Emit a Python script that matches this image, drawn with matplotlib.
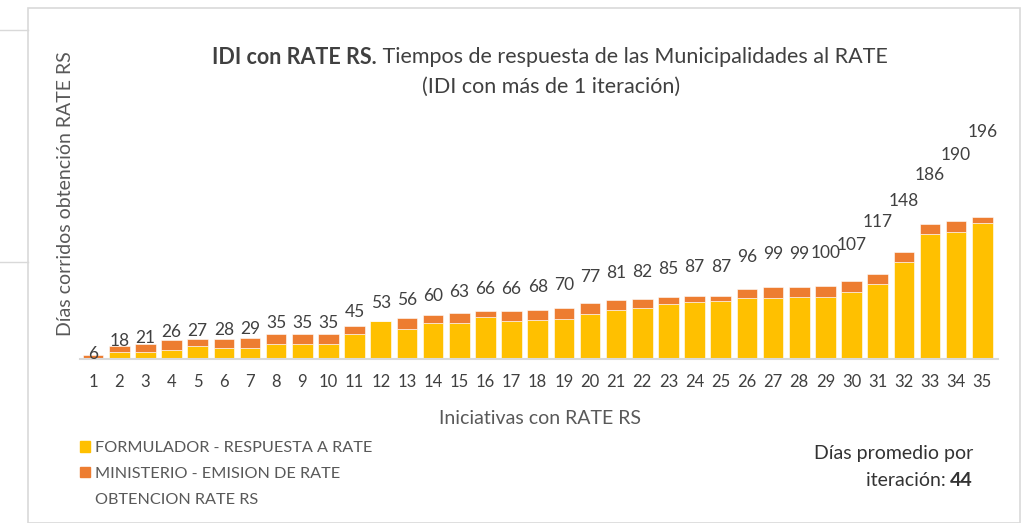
import matplotlib
matplotlib.use("Agg")
import matplotlib.pyplot as plt
from matplotlib.patches import Patch, Rectangle
from matplotlib.lines import Line2D
import numpy as np

plt.rcParams['font.family'] = ['Lato', 'DejaVu Sans']

# data
iniciativas = [str(i) for i in range(1, 36)]
formulador = [0, 9, 9, 13, 18, 15, 15, 21, 21, 21, 34, 53, 41, 49, 49, 58, 52, 54,
              55, 62, 67, 70, 76, 79, 80, 84, 84, 86, 86, 92, 103, 134, 172, 175, 187]
ministerio = [6, 9, 12, 13, 9, 13, 14, 14, 14, 14, 11, 0, 15, 11, 14, 8, 14, 14,
              15, 15, 14, 12, 9, 8, 7, 12, 15, 13, 14, 15, 14, 14, 14, 15, 9]
obtencion = [6, 18, 21, 26, 27, 28, 29, 35, 35, 35, 45, 53, 56, 60, 63, 66, 66, 68,
             70, 77, 81, 82, 85, 87, 87, 96, 99, 99, 100, 107, 117, 148, 186, 190, 196]
promedio = 44

# labels that were moved by hand in the original (pixels, + is up)
label_nudge = {30: 12, 32: -15, 34: 17}

W, H = 1033, 523
YELLOW = '#FFC000'
ORANGE = '#ED7D31'
TXT = '#404040'
GREY = '#595959'


def px(x, y):
    return x / W, 1 - y / H


fig = plt.figure(figsize=(W / 100, H / 100), dpi=100)
fig.patch.set_facecolor('white')

# chart frame and bits of the sheet behind it
fig.patches.append(Rectangle(px(28, 523), (1020 - 28) / W, (523 - 8) / H, transform=fig.transFigure,
                             fill=False, edgecolor='#D9D9D9', linewidth=1.2))
fig.lines.append(Line2D([0, 28 / W], [1 - 30 / H, 1 - 30 / H], transform=fig.transFigure,
                        color='#D9D9D9', linewidth=1))
fig.lines.append(Line2D([0, 28 / W], [1 - 262 / H, 1 - 262 / H], transform=fig.transFigure,
                        color='#D9D9D9', linewidth=1))

ax_left, ax_right, ax_top, ax_bottom = 80, 998, 110, 359
ax = fig.add_axes([ax_left / W, 1 - ax_bottom / H, (ax_right - ax_left) / W, (ax_bottom - ax_top) / H])

x = np.arange(len(iniciativas))
ax.bar(x, formulador, width=0.79, color=YELLOW, edgecolor='white', linewidth=0.4,
       label='FORMULADOR - RESPUESTA A RATE')
ax.bar(x, ministerio, width=0.79, bottom=formulador, color=ORANGE, edgecolor='white', linewidth=0.4,
       label='MINISTERIO - EMISION DE RATE')

ax.set_xlim(-0.5, 34.6)
ax.set_ylim(0, (ax_bottom - ax_top) / 0.726)
ax.set_xticks(x)
ax.set_xticklabels(iniciativas, fontsize=12, color=TXT)
ax.tick_params(axis='x', length=0, pad=11)
ax.set_yticks([])
for s in ['top', 'right', 'left']:
    ax.spines[s].set_visible(False)
ax.spines['bottom'].set_color('#D9D9D9')
ax.spines['bottom'].set_linewidth(1.5)

# data labels sit on a hidden secondary scale, as in the spreadsheet
ax2 = ax.twinx()
ax2.set_ylim((360.5 - ax_bottom) / 1.08, (360.5 - ax_top) / 1.08)
ax2.axis('off')
ax2.plot(x, obtencion, linestyle='none')
for i, v in enumerate(obtencion):
    ax2.annotate(str(v), (x[i], v), xytext=(0, label_nudge.get(i, 0) * 0.72), textcoords='offset points',
                 ha='center', va='center', fontsize=12.5, color=TXT)

# title: bold first part + normal rest, centred as one line
t1 = fig.text(0, 1 - 57 / H, 'IDI con RATE RS.', fontsize=15.5, fontweight='bold', color=TXT, va='center')
t2 = fig.text(0, 1 - 57 / H, ' Tiempos de respuesta de las Municipalidades al RATE', fontsize=15.5,
              color=TXT, va='center')
fig.canvas.draw()
r = fig.canvas.get_renderer()
w1 = t1.get_window_extent(r).width
w2 = t2.get_window_extent(r).width
start = 550 - (w1 + w2) / 2
t1.set_x(start / W)
t2.set_x((start + w1) / W)
fig.text(551 / W, 1 - 87 / H, '(IDI con más de 1 iteración)', fontsize=15.5, color=TXT, ha='center', va='center')

fig.text(66 / W, 1 - 194 / H, 'Días corridos obtención RATE RS', fontsize=14, color=GREY,
         rotation=90, ha='center', va='center')
fig.text(540 / W, 1 - 418 / H, 'Iniciativas con RATE RS', fontsize=14, color=GREY, ha='center', va='center')

handles = [Patch(color=YELLOW), Patch(color=ORANGE), Line2D([], [], linestyle='none')]
labels = ['FORMULADOR - RESPUESTA A RATE', 'MINISTERIO - EMISION DE RATE', 'OBTENCION RATE RS']
fig.legend(handles, labels, loc='upper left', bbox_to_anchor=px(72, 433), frameon=False,
           fontsize=11.7, labelcolor=GREY, handlelength=0.6, handleheight=0.6,
           handletextpad=0.3, labelspacing=0.72, borderpad=0)

# average note, right aligned
fig.text(973 / W, 1 - 453 / H, 'Días promedio por', fontsize=14, color='#333333', ha='right', va='center')
n2 = fig.text(973 / W, 1 - 480 / H, str(promedio), fontsize=14, fontweight='bold', color='#333333',
              ha='right', va='center')
fig.canvas.draw()
wn = n2.get_window_extent(fig.canvas.get_renderer()).width
fig.text((973 - wn) / W, 1 - 480 / H, 'iteración: ', fontsize=14, color='#333333', ha='right', va='center')

plt.savefig('out.png', dpi=100)
